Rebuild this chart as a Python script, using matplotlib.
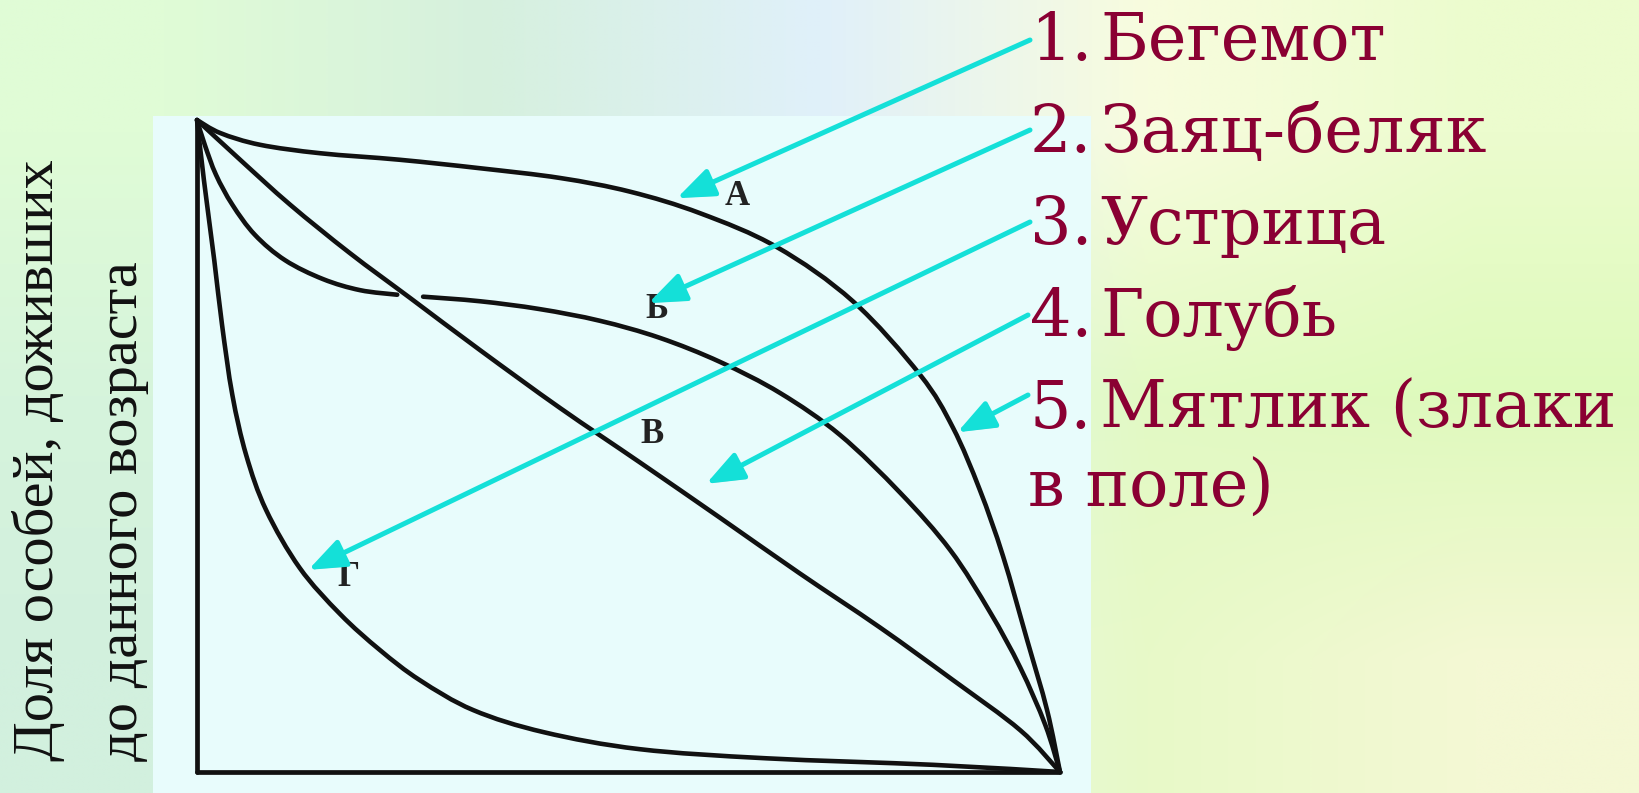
import numpy as np
import matplotlib
matplotlib.use("Agg")
import matplotlib.pyplot as plt
from matplotlib.patches import Rectangle, PathPatch
from matplotlib.path import Path
import matplotlib.patheffects as pe

# survival curves
# age as fraction of max lifespan, survivors as fraction of the cohort
age_a = [0.000, 0.027, 0.073, 0.143, 0.235, 0.328, 0.421, 0.502, 0.583, 0.672,
         0.760, 0.838, 0.876, 0.907, 0.934, 0.962, 0.985, 1.000]
surv_a = [1.000, 0.980, 0.962, 0.949, 0.939, 0.926, 0.911, 0.890, 0.857, 0.805,
          0.722, 0.609, 0.528, 0.433, 0.331, 0.202, 0.095, 0.000]

# curve B is broken where it crosses the diagonal
age_b1 = [0.000, 0.009, 0.022, 0.041, 0.067, 0.102, 0.146, 0.189, 0.232]
surv_b1 = [1.000, 0.962, 0.916, 0.870, 0.824, 0.785, 0.756, 0.739, 0.732]
age_b2 = [0.262, 0.328, 0.397, 0.467, 0.536, 0.606, 0.676, 0.745, 0.815,
          0.873, 0.919, 0.954, 0.983, 1.000]
surv_b2 = [0.729, 0.722, 0.710, 0.692, 0.666, 0.629, 0.581, 0.517, 0.428,
           0.340, 0.245, 0.160, 0.072, 0.000]

age_v = [0.000, 0.050, 0.108, 0.177, 0.247, 0.328, 0.421, 0.513, 0.606,
         0.698, 0.791, 0.876, 0.954, 1.000]
surv_v = [1.000, 0.939, 0.870, 0.796, 0.727, 0.647, 0.558, 0.475, 0.390,
          0.305, 0.222, 0.141, 0.064, 0.000]

age_g = [0.000, 0.008, 0.020, 0.029, 0.041, 0.057, 0.080, 0.119, 0.166,
         0.212, 0.258, 0.320, 0.402, 0.513, 0.660, 0.853, 1.000]
surv_g = [1.000, 0.908, 0.785, 0.686, 0.578, 0.486, 0.402, 0.313, 0.242,
          0.187, 0.141, 0.095, 0.061, 0.035, 0.021, 0.011, 0.000]

curve_letters = ["А", "Б", "В", "Г"]
letter_x = [0.626, 0.533, 0.527, 0.175]
letter_y = [0.883, 0.709, 0.517, 0.299]

species = ["Бегемот", "Заяц-беляк", "Устрица", "Голубь", "Мятлик (злаки"]
species_tail = "в поле)"
# where each arrow points on the chart (age, survivors)
arrow_x = [0.556, 0.523, 0.129, 0.590, 0.881]
arrow_y = [0.880, 0.719, 0.310, 0.442, 0.521]

ylabel_lines = ["Доля особей, доживших", "до данного возраста"]


def smooth(xs, ys):
    # Catmull-Rom curve through the read points
    p = np.column_stack([xs, ys])
    n = len(p)
    verts = [p[0]]
    codes = [Path.MOVETO]
    for i in range(n - 1):
        p0 = p[max(i - 1, 0)]
        p1 = p[i]
        p2 = p[i + 1]
        p3 = p[min(i + 2, n - 1)]
        verts += [p1 + (p2 - p0) / 6, p2 - (p3 - p1) / 6, p2]
        codes += [Path.CURVE4] * 3
    return Path(verts, codes)


W, H = 1640, 793
fig = plt.figure(figsize=(W / 100, H / 100), dpi=100)

# slide background
bg = fig.add_axes([0, 0, 1, 1])
grad = np.array([
    [(224, 252, 214), (214, 240, 222), (224, 240, 250), (248, 252, 222), (236, 252, 206)],
    [(214, 244, 220), (218, 244, 226), (226, 244, 240), (226, 250, 196), (222, 250, 188)],
    [(210, 240, 222), (220, 244, 226), (230, 248, 232), (232, 250, 200), (244, 248, 212)],
]) / 255.0
bg.imshow(grad, extent=(0, W, H, 0), interpolation="bilinear", aspect="auto")
bg.add_patch(Rectangle((153, 116), 1091 - 153, H - 116, color="#e8fcfc", lw=0))
bg.set_xlim(0, W)
bg.set_ylim(H, 0)
bg.axis("off")

# chart
ax = fig.add_axes([197 / W, (H - 772) / H, 863 / W, 652 / H])
ax.patch.set_alpha(0)
ink = "#111111"
lw = 3.3
for xs, ys in [(age_a, surv_a), (age_b1, surv_b1), (age_b2, surv_b2),
               (age_v, surv_v), (age_g, surv_g)]:
    ax.add_patch(PathPatch(smooth(xs, ys), fill=False, ec=ink, lw=lw,
                           capstyle="round", joinstyle="round", clip_on=False))
ax.set_xlim(0, 1)
ax.set_ylim(0, 1)
for s in ["top", "right"]:
    ax.spines[s].set_visible(False)
for s in ["left", "bottom"]:
    ax.spines[s].set_linewidth(3.4)
    ax.spines[s].set_color(ink)
    ax.spines[s].set_capstyle("round")
ax.set_xticks([])
ax.set_yticks([])

for lt, lx, ly in zip(curve_letters, letter_x, letter_y):
    ax.text(lx, ly, lt, ha="center", va="center", fontsize=25,
            family="Liberation Serif", weight="bold", color="#222222")

# species list on the right
red = "#8a0033"
baselines = [60, 152, 244, 336, 428]
for i, (name, yb) in enumerate(zip(species, baselines), start=1):
    fig.text(1030 / W, 1 - yb / H, f"{i}.", ha="left", va="baseline",
             fontsize=47, family="DejaVu Serif", color=red)
    fig.text(1100 / W, 1 - yb / H, name, ha="left", va="baseline",
             fontsize=47, family="DejaVu Serif", color=red)
fig.text(1028 / W, 1 - 507 / H, species_tail, ha="left", va="baseline",
         fontsize=47, family="DejaVu Serif", color=red)

# arrows from the list to the curves
starts = [(1030, 40), (1030, 130), (1030, 222), (1028, 315), (1028, 395)]
for (sx, sy), tx, ty in zip(starts, arrow_x, arrow_y):
    ann = ax.annotate("", xy=(tx, ty), xycoords="data",
                      xytext=(sx / W, 1 - sy / H), textcoords="figure fraction",
                      arrowprops=dict(arrowstyle="-|>,head_length=0.9,head_width=0.35",
                                      color="#14e0d8", lw=3.6, mutation_scale=25,
                                      shrinkA=0, shrinkB=0),
                      annotation_clip=False, zorder=10)
    ann.arrow_patch.set_path_effects([
        pe.SimplePatchShadow(offset=(1.5, -1.5), shadow_rgbFace="#607070", alpha=0.35),
        pe.Normal()])

# rotated axis caption
fig.text(53 / W, 1 - 761 / H, ylabel_lines[0], rotation=90, rotation_mode="anchor",
         ha="left", va="baseline", fontsize=42, family="Liberation Serif", color=ink)
fig.text(137 / W, 1 - 761 / H, ylabel_lines[1], rotation=90, rotation_mode="anchor",
         ha="left", va="baseline", fontsize=42, family="Liberation Serif", color=ink)

fig.savefig("out.png", dpi=100)
